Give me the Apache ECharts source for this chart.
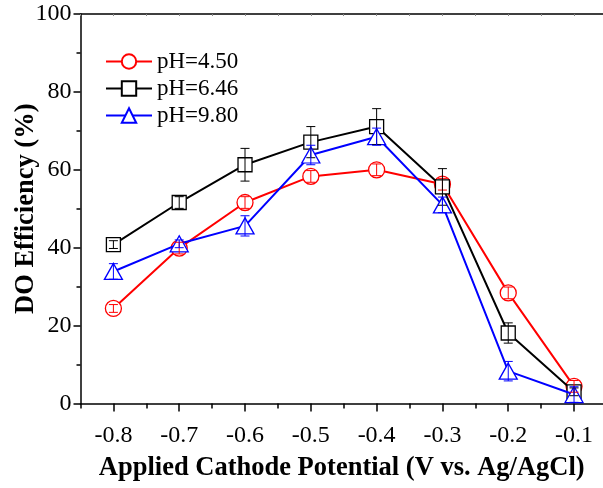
<!DOCTYPE html>
<html>
<head>
<meta charset="utf-8">
<script src="https://cdn.jsdelivr.net/npm/echarts@6/dist/echarts.min.js"></script>
<style>html,body{margin:0;padding:0;background:#fff;}#c{width:603px;height:488px;}</style>
</head>
<body>
<div id="c"></div>
<script>
var potentials = [-0.8, -0.7, -0.6, -0.5, -0.4, -0.3, -0.2, -0.1];
var majorTicks = [-0.8, -0.7, -0.6, -0.5, -0.4, -0.3, -0.2, -0.1];
var minorTicksX = [-0.85, -0.75, -0.65, -0.55, -0.45, -0.35, -0.25, -0.15];
var seriesNames = ['pH=4.50', 'pH=6.46', 'pH=9.80'];
var ph450 = [24.4, 39.9, 51.6, 58.3, 60.0, 56.3, 28.4, 4.4];
var ph646 = [40.8, 51.6, 61.3, 67.1, 71.1, 55.6, 18.1, 3.0];
var ph980 = [33.9, 41.0, 45.6, 63.8, 68.5, 51.0, 8.3, 2.3];
var err450 = [1.0, 1.5, 1.5, 1.5, 1.5, 1.5, 1.5, 1.5];
var err646 = [1.0, 1.5, 4.2, 4.0, 4.6, 4.7, 2.6, 1.0];
var err980 = [2.0, 1.0, 2.6, 2.5, 2.2, 2.0, 2.5, 2.0];

var FONT = 'Liberation Serif';
var colors = ['#ff0000', '#000000', '#0000ff'];
var symbols = ['circle', 'rect', 'triangle'];
var sizes = [[16, 16], [14, 14], [18, 16]];
var vals = [ph450, ph646, ph980];
var errs = [err450, err646, err980];

function pairs(v) { return potentials.map(function (x, i) { return [x, v[i]]; }); }
function triples(v, e) { return potentials.map(function (x, i) { return [x, v[i], e[i]]; }); }

var series = [];
for (var k = 0; k < 3; k++) {
  series.push({
    name: seriesNames[k], type: 'line', xAxisIndex: 0, yAxisIndex: 0,
    data: pairs(vals[k]), symbol: symbols[k], symbolSize: sizes[k],
    showAllSymbol: true, z: 3 + k,
    lineStyle: { color: colors[k], width: 2 },
    itemStyle: { color: '#ffffff', borderColor: colors[k], borderWidth: 1.3 }
  });
}
for (var k2 = 0; k2 < 3; k2++) {
  (function (k) {
    series.push({
      name: 'err' + k, type: 'custom', xAxisIndex: 0, yAxisIndex: 0, z: 10,
      data: triples(vals[k], errs[k]),
      renderItem: function (params, api) {
        var x = api.value(0), y = api.value(1), e = api.value(2);
        var lo = api.coord([x, y - e]);
        var hi = api.coord([x, y + e]);
        var c = 4.5;
        var st = { stroke: colors[k], lineWidth: 1 };
        return { type: 'group', children: [
          { type: 'line', shape: { x1: lo[0], y1: lo[1], x2: hi[0], y2: hi[1] }, style: st },
          { type: 'line', shape: { x1: lo[0] - c, y1: lo[1], x2: lo[0] + c, y2: lo[1] }, style: st },
          { type: 'line', shape: { x1: hi[0] - c, y1: hi[1], x2: hi[0] + c, y2: hi[1] }, style: st }
        ] };
      }
    });
  })(k2);
}

var allTicks = majorTicks.concat(minorTicksX);
var XMIN = -0.85, XMAX = -0.056;
var option = {
  animation: false,
  backgroundColor: '#ffffff',
  grid: { left: 80.5, right: 0, top: 14, bottom: 84.5, containLabel: false, outerBoundsMode: 'none' },
  legend: {
    data: seriesNames, orient: 'vertical', left: 100, top: 45,
    itemWidth: 46, itemHeight: 18, itemGap: 4,
    textStyle: { fontFamily: FONT, fontSize: 23, color: '#000', lineHeight: 20 }
  },
  xAxis: [
    {
      type: 'value', min: XMIN, max: XMAX, position: 'bottom',
      name: 'Applied Cathode Potential (V vs. Ag/AgCl)', nameLocation: 'middle', nameGap: 51,
      nameMoveOverlap: false,
      nameTextStyle: { fontFamily: FONT, fontSize: 26.5, fontWeight: 'bold', color: '#000' },
      axisLine: { show: true, onZero: false, lineStyle: { color: '#000', width: 1.5 } },
      axisTick: { show: true, inside: false, length: 8, customValues: majorTicks, lineStyle: { color: '#000', width: 1.5 } },
      axisLabel: { show: true, customValues: majorTicks, margin: 20, fontFamily: FONT, fontSize: 24, color: '#000',
        formatter: function (v) { return (Math.round(v * 10) / 10).toFixed(1); } },
      splitLine: { show: false }
    },
    {
      type: 'value', min: XMIN, max: XMAX, position: 'bottom',
      axisLine: { show: false, onZero: false },
      axisTick: { show: true, inside: false, length: 5, customValues: minorTicksX, lineStyle: { color: '#000', width: 1.5 } },
      axisLabel: { show: false }, splitLine: { show: false }
    },
    {
      type: 'value', min: XMIN, max: XMAX, position: 'top',
      axisLine: { show: true, onZero: false, lineStyle: { color: '#000', width: 1.5 } },
      axisTick: { show: true, inside: true, length: 2, customValues: allTicks, lineStyle: { color: '#888', width: 1 } },
      axisLabel: { show: false }, splitLine: { show: false }
    }
  ],
  yAxis: [
    {
      type: 'value', min: 0, max: 100, interval: 20, position: 'left',
      name: 'DO Efficiency (%)', nameLocation: 'middle', nameGap: 41, nameRotate: 90,
      nameMoveOverlap: false,
      nameTextStyle: { fontFamily: FONT, fontSize: 26.5, fontWeight: 'bold', color: '#000' },
      axisLine: { show: true, onZero: false, lineStyle: { color: '#000', width: 1.5 } },
      axisTick: { show: true, inside: false, length: 7, lineStyle: { color: '#000', width: 1.5 } },
      minorTick: { show: true, splitNumber: 2, length: 4, lineStyle: { color: '#000', width: 1.5 } },
      axisLabel: { margin: 9, fontFamily: FONT, fontSize: 24, color: '#000' },
      splitLine: { show: false }
    }
  ],
  series: series
};
var chart = echarts.init(document.getElementById('c'), null, { renderer: 'canvas' });
chart.setOption(option);
</script>
</body>
</html>
